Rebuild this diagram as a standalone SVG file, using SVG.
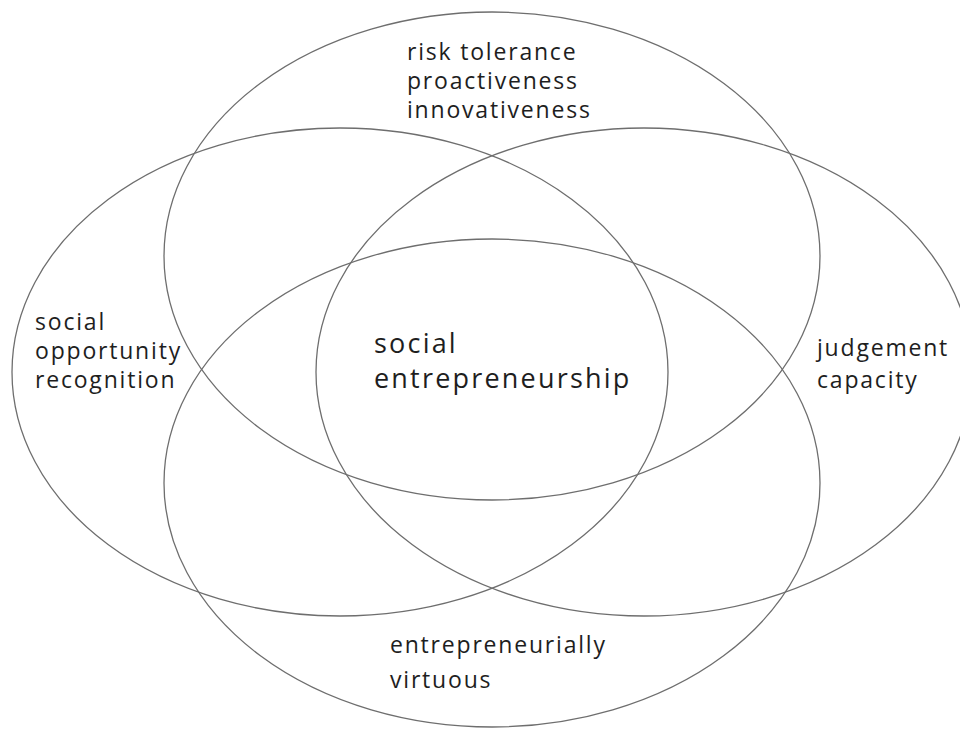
<svg xmlns="http://www.w3.org/2000/svg" width="960" height="729" viewBox="0 0 960 729">
  <style>
    .ring { fill: none; stroke: #6e6e6e; stroke-width: 1.3; }
    .label { font-family: "Open Sans", "Noto Sans", sans-serif; font-size: 23px; letter-spacing: 1.8px; fill: #1e1e1e; }
    .core { font-family: "Open Sans", "Noto Sans", sans-serif; font-size: 27px; letter-spacing: 2.2px; fill: #1e1e1e; }
  </style>
  <rect width="960" height="729" fill="#ffffff"/>

  <!-- four overlapping domains -->
  <g id="top">
    <ellipse class="ring" cx="492" cy="256" rx="328" ry="244"/>
    <text class="label" x="407" y="60">risk tolerance</text>
    <text class="label" x="407" y="89">proactiveness</text>
    <text class="label" x="407" y="118">innovativeness</text>
  </g>
  <g id="left">
    <ellipse class="ring" cx="340" cy="372" rx="328" ry="244"/>
    <text class="label" x="35" y="330">social</text>
    <text class="label" x="35" y="359">opportunity</text>
    <text class="label" x="35" y="388">recognition</text>
  </g>
  <g id="right">
    <ellipse class="ring" cx="644" cy="372" rx="328" ry="244"/>
    <text class="label" x="817" y="356">judgement</text>
    <text class="label" x="817" y="388">capacity</text>
  </g>
  <g id="bottom">
    <ellipse class="ring" cx="492" cy="483" rx="328" ry="244"/>
    <text class="label" x="390" y="653">entrepreneurially</text>
    <text class="label" x="390" y="688">virtuous</text>
  </g>
  <g id="centre">
    <text class="core" x="374" y="353">social</text>
    <text class="core" x="374" y="388">entrepreneurship</text>
  </g>
</svg>
